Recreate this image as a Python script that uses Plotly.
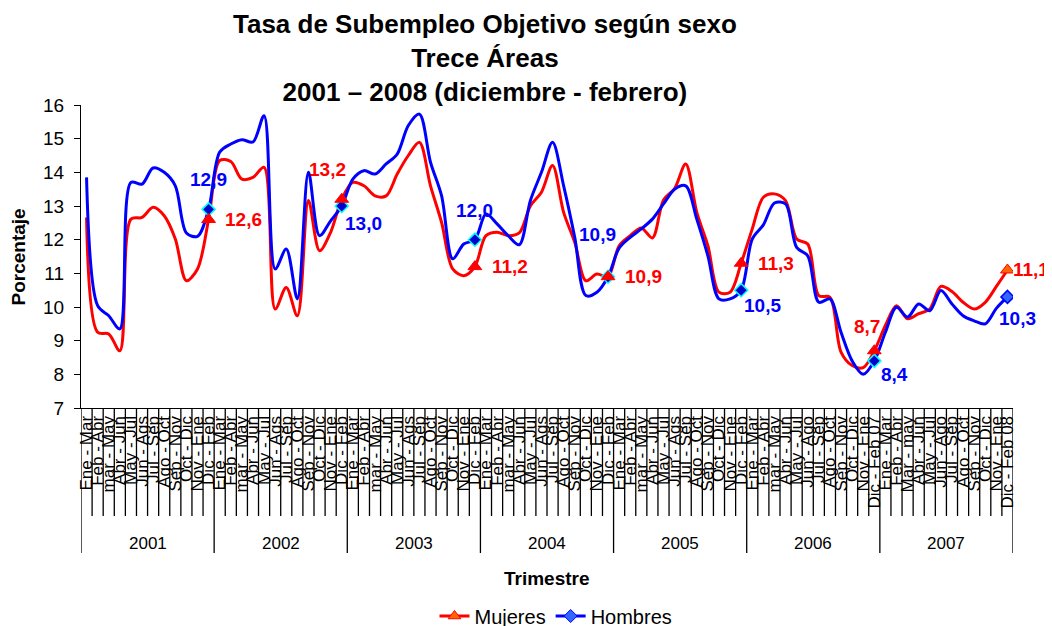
import plotly.graph_objects as go

# ---------------- data ----------------
anios = ["2001", "2002", "2003", "2004", "2005", "2006", "2007"]

periodos_2001 = ["Ene - Mar", "Feb - Abr", "mar - May", "Abr - Jun", "May - Jul", "Jun - Ags",
                 "Jul - Sep", "Ago - Oct", "Sep - Nov", "Oct - Dic", "Nov - Ene", "Dic - Feb"]
periodos_2002 = list(periodos_2001)
periodos_2003 = list(periodos_2001)
periodos_2004 = list(periodos_2001)
periodos_2005 = list(periodos_2001)
periodos_2006 = ["Ene - Mar", "Feb - Abr", "mar - May", "Abr - Jun", "May - Jul", "Jun - Ago",
                 "Jul - Sep", "Ago - Oct", "Sep - Nov", "Oct - Dic", "Nov - Ene", "Dic - Feb 07"]
periodos_2007 = ["Ene - Mar", "Feb - Abr", "Mar - may", "Abr - Jun", "May - Jul", "Jun - Ago",
                 "Jul - Sep", "Ago - Oct", "Sep - Nov", "Oct - Dic", "Nov - Ene", "Dic - Feb 08"]

mujeres = [
    12.66, 9.25, 9.20, 8.70, 12.61, 12.66, 12.96, 12.71, 12.02, 10.78, 11.13, 12.6,
    14.35, 14.32, 13.80, 13.85, 14.15, 9.94, 10.58, 9.74, 13.16, 11.67, 12.22, 13.2,
    13.70, 13.60, 13.30, 13.30, 13.95, 14.50, 14.89, 13.60, 12.51, 11.13, 10.93, 11.2,
    12.12, 12.22, 12.12, 12.20, 13.00, 13.41, 14.20, 12.81, 11.92, 10.78, 10.98, 10.9,
    11.82, 12.12, 12.35, 12.05, 13.18, 13.52, 14.25, 12.81, 11.82, 10.44, 10.44, 11.3,
    12.32, 13.26, 13.36, 13.16, 12.02, 11.87, 10.34, 10.29, 8.66, 8.26, 8.20, 8.7,
    9.45, 10.04, 9.65, 9.80, 9.94, 10.61, 10.46, 10.14, 9.94, 10.14, 10.61, 11.1,
]
hombres = [
    13.85, 10.04, 9.74, 9.35, 13.70, 13.65, 14.13, 14.00, 13.60, 12.20, 12.10, 12.9,
    14.60, 14.84, 14.97, 14.90, 15.68, 11.13, 11.72, 10.24, 14.00, 12.12, 12.56, 13.0,
    13.80, 14.05, 13.95, 14.25, 14.54, 15.39, 15.73, 14.30, 13.30, 11.43, 11.87, 12.0,
    12.76, 12.47, 12.12, 11.85, 13.16, 14.00, 14.89, 13.60, 12.07, 10.34, 10.44, 10.9,
    11.75, 12.07, 12.32, 12.61, 13.06, 13.50, 13.60, 12.61, 11.52, 10.24, 10.24, 10.5,
    12.02, 12.44, 13.09, 13.06, 11.77, 11.52, 10.14, 10.24, 9.25, 8.40, 8.00, 8.4,
    9.25, 9.99, 9.70, 10.09, 9.89, 10.49, 10.09, 9.74, 9.59, 9.50, 9.96, 10.3,
]

# ---------------- styling ----------------
FONT = "Liberation Sans, Arial, sans-serif"
ROJO = "#FF0000"
AZUL = "#0000FF"

# label offsets (px) for the Dic-Feb data labels
off_muj = [(35, 0), (-14, -30), (35, 0), (35, 0), (35, 0), (-7, -24), (24, 0)]
off_hom = [(0, -30), (22, 17), (0, -29), (-11, -42), (21, 15), (20, 14), (10, 22)]

periodos = (periodos_2001 + periodos_2002 + periodos_2003 + periodos_2004 +
            periodos_2005 + periodos_2006 + periodos_2007)
n = len(periodos)
per_year = len(periodos_2001)
idx = list(range(n))
mark_idx = [k * per_year + per_year - 1 for k in range(len(anios))]

# page offset (browser body margin)
OFF = 8
W, H = 1052, 626
# plot area in screen px: x 81..1013, y 105..408
L = 81 - OFF
T = 105 - OFF
R = W - (1013 - OFF)
B = H - (408 - OFF)
ph = H - T - B
pw = W - L - R


def py(screen_y):
    """screen y (px) -> paper y"""
    return 1 - ((screen_y - OFF) - T) / ph


def px(screen_x):
    return ((screen_x - OFF) - L) / pw


fig = go.Figure()

fig.add_trace(go.Scatter(x=idx, y=mujeres, mode="lines",
                         line=dict(color=ROJO, width=3, shape="spline", smoothing=0.9),
                         showlegend=False, hoverinfo="skip"))
fig.add_trace(go.Scatter(x=idx, y=hombres, mode="lines",
                         line=dict(color=AZUL, width=3, shape="spline", smoothing=0.9),
                         showlegend=False, hoverinfo="skip"))

# markers at Dic-Feb
fig.add_trace(go.Scatter(
    x=mark_idx, y=[hombres[i] for i in mark_idx], mode="markers", showlegend=False,
    marker=dict(symbol="diamond", size=10,
                color=["#0000CC"] * (len(mark_idx) - 1) + ["#3366FF"],
                line=dict(color=["#00FFFF"] * (len(mark_idx) - 1) + [AZUL], width=1.5))))
fig.add_trace(go.Scatter(
    x=mark_idx, y=[mujeres[i] for i in mark_idx], mode="markers", showlegend=False,
    marker=dict(symbol="triangle-up", size=12,
                color=[ROJO] * (len(mark_idx) - 1) + ["#FF6600"],
                line=dict(color=ROJO, width=1))))

# legend entries
fig.add_trace(go.Scatter(x=[None], y=[None], mode="lines+markers", name="Mujeres",
                         line=dict(color=ROJO, width=3),
                         marker=dict(symbol="triangle-up", size=11, color="#FF6600",
                                     line=dict(color=ROJO, width=1))))
fig.add_trace(go.Scatter(x=[None], y=[None], mode="lines+markers", name="Hombres",
                         line=dict(color=AZUL, width=3),
                         marker=dict(symbol="diamond", size=10, color="#3366FF",
                                     line=dict(color=AZUL, width=1))))


def fmt(v):
    return f"{v:.1f}".replace(".", ",")


ann = []
for k, i in enumerate(mark_idx):
    dx, dy = off_muj[k]
    ann.append(dict(x=i, y=mujeres[i], xref="x", yref="y", text=f"<b>{fmt(mujeres[i])}</b>",
                    showarrow=False, xshift=dx, yshift=-dy, xanchor="center", yanchor="middle",
                    font=dict(family=FONT, size=19, color=ROJO)))
    dx, dy = off_hom[k]
    ann.append(dict(x=i, y=hombres[i], xref="x", yref="y", text=f"<b>{fmt(hombres[i])}</b>",
                    showarrow=False, xshift=dx, yshift=-dy, xanchor="center", yanchor="middle",
                    font=dict(family=FONT, size=19, color=AZUL)))

# year labels
for k, a in enumerate(anios):
    ann.append(dict(x=k * per_year + (per_year - 1) / 2, y=py(543), xref="x", yref="paper",
                    xanchor="center", yanchor="middle",
                    text=a, showarrow=False, font=dict(family=FONT, size=17, color="black")))

# title
ann.append(dict(x=px(485), y=py(58), xref="paper", yref="paper", xanchor="center", yanchor="middle",
                text="<b>Tasa de Subempleo Objetivo según sexo<br>Trece Áreas<br>"
                     "2001 – 2008 (diciembre - febrero)</b>",
                showarrow=False, font=dict(family=FONT, size=26, color="black")))

# axis titles
ann.append(dict(x=px(547), y=py(578), xref="paper", yref="paper", xanchor="center", yanchor="middle",
                text="<b>Trimestre</b>",
                showarrow=False, font=dict(family=FONT, size=19, color="black")))
ann.append(dict(x=px(18), y=0.5, xref="paper", yref="paper", xanchor="center", yanchor="middle",
                text="<b>Porcentaje</b>", textangle=-90,
                showarrow=False, font=dict(family=FONT, size=19, color="black")))

# category tick lines and year dividers
shapes = []
for k in range(0, n + 1):
    is_year = (k % per_year == 0)
    length = 145 if is_year else 108
    shapes.append(dict(type="line", xref="x", yref="paper", x0=k - 0.5, x1=k - 0.5,
                       y0=0, y1=-length / ph, line=dict(color="black", width=1.3)))

fig.update_layout(
    width=W, height=H,
    margin=dict(l=L, r=R, t=T, b=B, autoexpand=False),
    paper_bgcolor="white", plot_bgcolor="white",
    font=dict(family=FONT, color="black"),
    xaxis=dict(range=[-0.5, n - 0.5], tickmode="array", tickvals=idx, ticktext=periodos, tickangle=-90,
               tickfont=dict(family=FONT, size=17, color="black"), showgrid=False, zeroline=False,
               showline=True, linecolor="black", linewidth=1.3, ticks="", automargin=False),
    yaxis=dict(range=[7, 16], dtick=1, tick0=7, showgrid=False, zeroline=False, showline=True,
               linecolor="black", linewidth=1.3, ticks="outside", ticklen=6, tickcolor="black",
               ticklabelstandoff=6,
               tickfont=dict(family=FONT, size=19, color="black"), automargin=False),
    legend=dict(orientation="h", x=px(556), xanchor="center", y=py(616), yanchor="middle",
                font=dict(family=FONT, size=20, color="black"), bgcolor="rgba(0,0,0,0)"),
    annotations=ann,
    shapes=shapes,
    showlegend=True,
)

fig.write_html("out.html")
